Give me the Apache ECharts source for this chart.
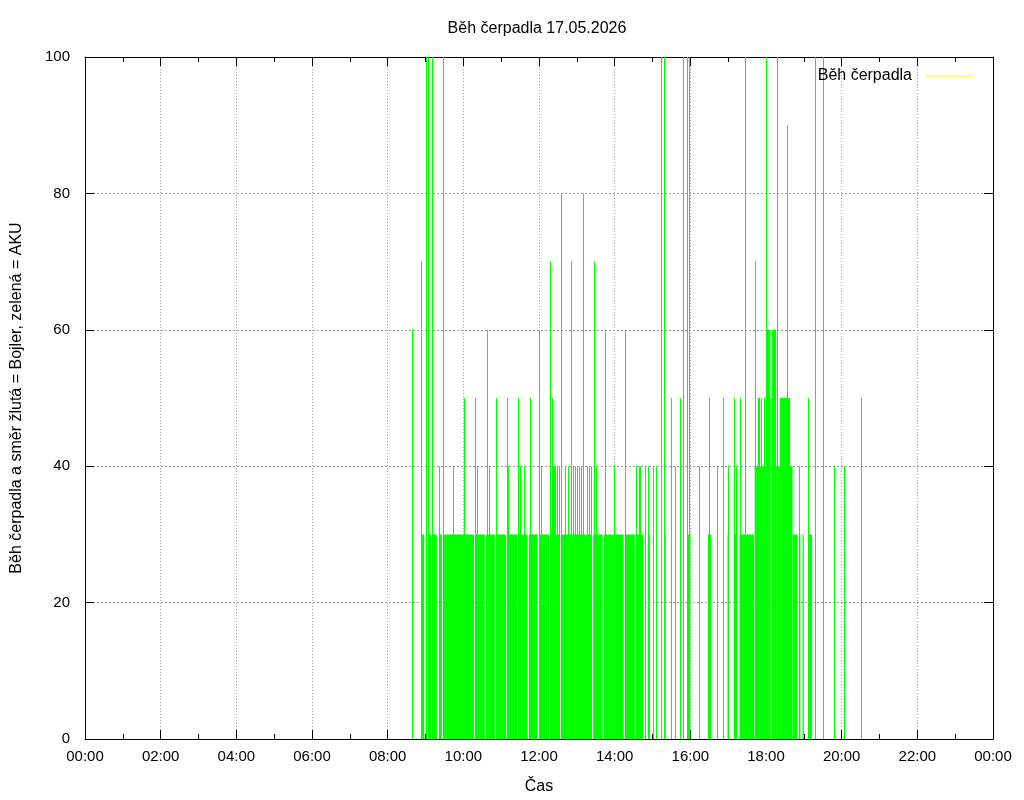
<!DOCTYPE html>
<html lang="cs">
<head>
  <meta charset="UTF-8">
  <title>Běh čerpadla 17.05.2026</title>
  <script src="https://cdn.jsdelivr.net/npm/echarts@6.0.0/dist/echarts.min.js"></script>
  <style>
    html, body { margin: 0; padding: 0; background: #fff; }
    #chart { width: 1024px; height: 800px; }
  </style>
</head>
<body>
  <div id="chart"></div>
  <script>
    // časy v minutách od půlnoci
    // souvislé běhy čerpadla: začátek, konec, hodnota
    const runStarts = [533, 544, 551, 562, 568, 619, 636, 652, 670, 688, 704, 720, 737, 755, 788, 806, 823, 857, 873, 880, 893, 919, 956, 988, 1019, 1030, 1038, 1062, 1080, 1087, 1089, 1096, 1102, 1118, 1122, 1133, 1138, 1148];
    const runEnds   = [538, 549, 558, 566, 617, 634, 650, 668, 686, 702, 718, 736, 753, 787, 804, 821, 854, 872, 879, 885, 896, 921, 960, 993, 1021, 1034, 1061, 1080, 1087, 1089, 1096, 1102, 1118, 1122, 1130, 1134, 1140, 1153];
    const runLevels = [30, 30, 30, 30, 30, 30, 30, 30, 30, 30, 30, 30, 30, 30, 30, 30, 30, 30, 30, 30, 30, 30, 30, 30, 30, 30, 30, 40, 60, 50, 60, 40, 50, 40, 30, 30, 30, 30];

    // jednotlivé impulzy
    const spikeTimes  = [518, 533, 541, 544, 551, 562, 568, 584, 601, 619, 621, 637, 640, 652, 670, 671, 687, 690, 697, 705, 720, 723, 738, 740, 742, 744, 746, 749, 751, 755, 762, 766, 771, 774, 777, 780, 783, 786, 789, 790, 796, 799, 802, 807, 808, 811, 824, 839, 857, 874, 878, 880, 888, 893, 901, 906, 913, 919, 930, 935, 943, 949, 954, 958, 973, 989, 1003, 1012, 1020, 1030, 1032, 1038, 1046, 1063, 1067, 1069, 1072, 1077, 1080, 1098, 1113, 1132, 1146, 1158, 1171, 1188, 1203, 1231];
    const spikeValues = [60, 70, 100, 100, 100, 40, 100, 40, 50, 50, 40, 60, 40, 50, 50, 40, 50, 40, 40, 50, 60, 40, 70, 50, 40, 40, 40, 40, 40, 80, 40, 40, 70, 40, 40, 40, 40, 40, 80, 50, 40, 40, 40, 70, 50, 40, 60, 40, 60, 40, 40, 40, 40, 40, 40, 40, 100, 100, 50, 40, 50, 100, 100, 100, 40, 50, 40, 50, 40, 50, 40, 50, 100, 70, 50, 50, 50, 50, 100, 100, 90, 40, 50, 100, 100, 40, 40, 50];

    const GREEN = '#00ff00';
    const FONT = 'Liberation Sans';

    const runData = runStarts.map((s, i) => [s, runEnds[i], runLevels[i]]);
    const spikeData = spikeTimes.map((t, i) => [t, spikeValues[i]]);

    function hhmm(v) {
      const h = Math.floor(v / 60) % 24;
      const m = v % 60;
      return String(h).padStart(2, '0') + ':' + String(m).padStart(2, '0');
    }

    const xBase = {
      type: 'value', min: 0, max: 1440, interval: 120,
      axisLine: { show: true, onZero: false, lineStyle: { color: '#000', width: 1 } },
      axisTick: { inside: true, length: 9, lineStyle: { color: '#000' } },
      minorTick: { show: true, splitNumber: 2, length: 5, lineStyle: { color: '#000' } }
    };
    const yBase = {
      type: 'value', min: 0, max: 100, interval: 20,
      axisLine: { show: true, onZero: false, lineStyle: { color: '#000', width: 1 } },
      axisTick: { show: true, inside: true, length: 9, lineStyle: { color: '#000' } }
    };

    const chart = echarts.init(document.getElementById('chart'));
    chart.setOption({
      animation: false,
      backgroundColor: '#fff',
      title: {
        text: 'Běh čerpadla 17.05.2026',
        left: 532, top: 16, textAlign: 'center',
        textStyle: { fontFamily: FONT, fontSize: 16, fontWeight: 'normal', color: '#000' }
      },
      legend: {
        right: 46, top: 63,
        align: 'right',
        icon: 'rect', itemWidth: 48, itemHeight: 1,
        textStyle: { fontFamily: FONT, fontSize: 16, color: '#000', padding: [0, 8, 0, 0] },
        data: [{ name: 'Běh čerpadla', itemStyle: { color: '#ffff00' } }]
      },
      grid: { left: 85, right: 31, top: 57, bottom: 61 },
      xAxis: [
        Object.assign({}, xBase, {
          position: 'bottom',
          name: 'Čas', nameLocation: 'middle', nameGap: 40,
          nameTextStyle: { fontFamily: FONT, fontSize: 16, color: '#000' },
          axisLabel: { margin: 10, fontFamily: FONT, fontSize: 15, color: '#000', formatter: hhmm },
          splitLine: { show: true, lineStyle: { color: '#a0a0a0', type: [1, 2], width: 1 } }
        }),
        Object.assign({}, xBase, {
          position: 'top',
          axisLabel: { show: false },
          splitLine: { show: false }
        })
      ],
      yAxis: [
        Object.assign({}, yBase, {
          position: 'left',
          name: 'Běh čerpadla a směr žlutá = Bojler, zelená = AKU',
          nameLocation: 'middle', nameGap: 60,
          nameTextStyle: { fontFamily: FONT, fontSize: 16, color: '#000' },
          axisLabel: { margin: 15, fontFamily: FONT, fontSize: 15, color: '#000' },
          splitLine: { show: true, lineStyle: { color: '#a0a0a0', type: [2, 2], width: 1 } }
        }),
        Object.assign({}, yBase, {
          position: 'right',
          axisLabel: { show: false },
          splitLine: { show: false }
        })
      ],
      series: [
        {
          name: 'Běh čerpadla',
          type: 'custom',
          data: runData,
          encode: { x: [0, 1], y: 2 },
          clip: true,
          renderItem: function (params, api) {
            const p0 = api.coord([api.value(0), api.value(2)]);
            const p1 = api.coord([api.value(1), 0]);
            return {
              type: 'rect',
              shape: { x: p0[0], y: p0[1], width: Math.max(1, p1[0] - p0[0]), height: p1[1] - p0[1] },
              style: { fill: GREEN }
            };
          }
        },
        {
          name: 'Běh čerpadla',
          type: 'custom',
          data: spikeData,
          encode: { x: 0, y: 1 },
          clip: true,
          renderItem: function (params, api) {
            const p0 = api.coord([api.value(0), api.value(1)]);
            const p1 = api.coord([api.value(0), 0]);
            return {
              type: 'rect',
              shape: { x: Math.round(p0[0]), y: p0[1], width: 1, height: p1[1] - p0[1] },
              style: { fill: GREEN }
            };
          }
        }
      ]
    });
  </script>
</body>
</html>
